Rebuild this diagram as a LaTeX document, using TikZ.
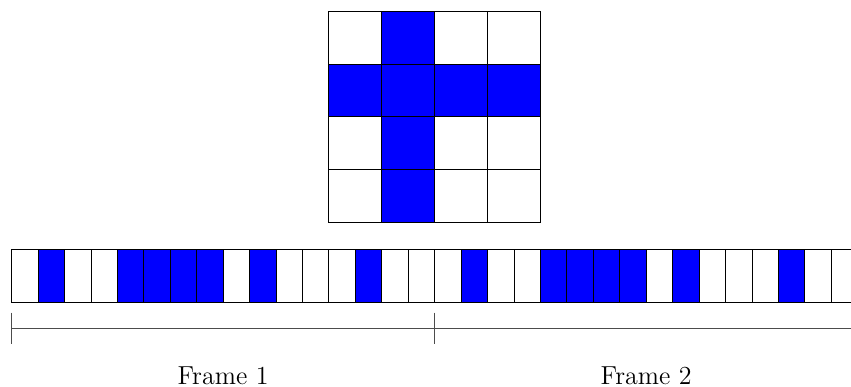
\documentclass[tikz,border=0pt]{standalone}
\definecolor{cellblue}{RGB}{0,0,255}
\begin{document}
\begin{tikzpicture}[
  cellline/.style={draw=black, line width=0.5pt},
  bluecell/.style={cellline, fill=cellblue},
  whitecell/.style={cellline, fill=white},
  ruler/.style={draw=black!70, line width=0.5pt},
  framelabel/.style={anchor=base, font=\fontsize{14}{17}\selectfont}
]
\useasboundingbox (-0.221,-1.607) rectangle (15.873,5.711);
% 4x4 grid (row 0 at top)
\foreach \r/\c/\b in {0/0/0,0/1/1,0/2/0,0/3/0,
                      1/0/1,1/1/1,1/2/1,1/3/1,
                      2/0/0,2/1/1,2/2/0,2/3/0,
                      3/0/0,3/1/1,3/2/0,3/3/0}{
  \ifnum\b=1
    \path[bluecell] (6+\c,5.5-\r) rectangle ++(1,-1);
  \else
    \path[whitecell] (6+\c,5.5-\r) rectangle ++(1,-1);
  \fi
}
% strip of 32 cells
\foreach \i/\b in {0/0,1/1,2/0,3/0,4/1,5/1,6/1,7/1,8/0,9/1,10/0,11/0,12/0,13/1,14/0,15/0,
                   16/0,17/1,18/0,19/0,20/1,21/1,22/1,23/1,24/0,25/1,26/0,27/0,28/0,29/1,30/0,31/0}{
  \ifnum\b=1
    \path[bluecell] (0.5*\i,0) rectangle ++(0.5,1);
  \else
    \path[whitecell] (0.5*\i,0) rectangle ++(0.5,1);
  \fi
}
% ruler
\coordinate (r0) at (0,-0.5);
\coordinate (r1) at (8,-0.5);
\coordinate (r2) at (16,-0.5);
\draw[ruler] (r0) -- (r2);
\draw[ruler] ([yshift=0.3cm]r0) -- ([yshift=-0.3cm]r0);
\draw[ruler] ([yshift=0.3cm]r1) -- ([yshift=-0.3cm]r1);
\node[framelabel] (f1) at (4,-1.556) {Frame 1};
\node[framelabel] (f2) at (12,-1.556) {Frame 2};
\end{tikzpicture}
\end{document}
